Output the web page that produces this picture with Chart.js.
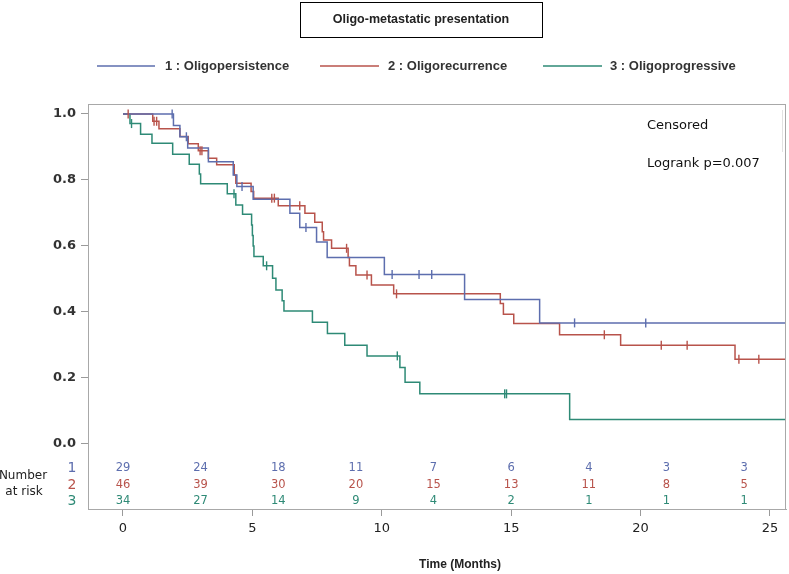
<!DOCTYPE html>
<html>
<head>
<meta charset="utf-8">
<script src="https://cdn.jsdelivr.net/npm/chart.js@4.4.1/dist/chart.umd.min.js"></script>
<style>
html,body{margin:0;padding:0;background:#fff;}
#wrap{width:789px;height:574px;position:relative;}
</style>
</head>
<body>
<div id="wrap"><canvas id="c" width="789" height="574"></canvas></div>
<script>
// ---- Data ----
const titleText = 'Oligo-metastatic presentation';
const groupNames = ['1 : Oligopersistence', '2 : Oligorecurrence', '3 : Oligoprogressive'];

const g1T = [0, 1.95, 2.2, 2.5, 3.3, 4.26, 4.4, 5.03, 6.45, 6.83, 7.48, 7.89, 10.1, 13.2, 16.1, 26];
const g1S = [1.0, 0.965, 0.931, 0.897, 0.855, 0.815, 0.780, 0.742, 0.699, 0.656, 0.612, 0.565, 0.514, 0.438, 0.367, 0.367];
const g1C = [1.9, 2.45, 4.6, 7.07, 10.4, 11.44, 11.93, 17.45, 20.2];

const g2T = [0, 1.15, 1.39, 2.2, 2.52, 2.91, 3.3, 3.62, 4.3, 4.36, 4.95, 5.05, 6.0, 7.03, 7.41, 7.7, 7.75, 8.06, 8.7, 8.75, 9.0, 9.6, 10.46, 14.58, 14.7, 15.1, 16.87, 19.23, 23.65, 26];
const g2S = [1.0, 0.978, 0.955, 0.932, 0.910, 0.889, 0.866, 0.846, 0.815, 0.790, 0.765, 0.745, 0.722, 0.699, 0.672, 0.643, 0.618, 0.593, 0.565, 0.540, 0.512, 0.482, 0.455, 0.426, 0.393, 0.365, 0.331, 0.299, 0.257, 0.257];
const g2C = [0.2, 1.2, 1.3, 2.98, 3.05, 5.75, 5.85, 6.83, 8.64, 9.43, 10.57, 18.6, 20.8, 21.8, 23.8, 24.57];

const g3T = [0, 0.27, 0.68, 1.12, 1.92, 2.56, 2.95, 3.0, 4.03, 4.36, 4.62, 4.97, 5.0, 5.03, 5.06, 5.42, 5.78, 5.91, 6.15, 6.22, 7.32, 7.9, 8.57, 9.43, 10.7, 10.9, 11.47, 17.26, 26];
const g3S = [1.0, 0.971, 0.939, 0.911, 0.878, 0.848, 0.818, 0.789, 0.758, 0.724, 0.696, 0.664, 0.632, 0.600, 0.568, 0.540, 0.502, 0.467, 0.434, 0.403, 0.369, 0.335, 0.299, 0.267, 0.232, 0.187, 0.152, 0.074, 0.074];
const g3C = [0.33, 4.29, 5.55, 10.6, 14.75, 14.82];

const riskTimes = [0, 3, 6, 9, 12, 15, 18, 21, 24];
const risk1 = [29, 24, 18, 11, 7, 6, 4, 3, 3];
const risk2 = [46, 39, 30, 20, 15, 13, 11, 8, 5];
const risk3 = [34, 27, 14, 9, 4, 2, 1, 1, 1];

const yTickValues = [0, 0.2, 0.4, 0.6, 0.8, 1.0];
const xTickValues = [0, 5, 10, 15, 20, 25];

// ---- Styles ----
const colors = ['#5d6eae', '#b8534b', '#2e8a76'];

function steps(T, S) { return T.map((t, i) => ({x: t, y: S[i]})); }
function survAt(T, S, t) { let v = S[0]; for (let i = 0; i < T.length; i++) { if (T[i] <= t) v = S[i]; } return v; }
function censors(C, T, S) { return C.map(t => ({x: t, y: survAt(T, S, t)})); }

const curves = [[g1T, g1S, g1C], [g2T, g2S, g2C], [g3T, g3S, g3C]];
const risks = [risk1, risk2, risk3];

const datasets = [];
curves.forEach((c, i) => {
  datasets.push({
    type: 'line', data: steps(c[0], c[1]), stepped: 'before',
    borderColor: colors[i], borderWidth: 1.5, pointRadius: 0, fill: false, order: 2
  });
});
curves.forEach((c, i) => {
  datasets.push({
    type: 'line', data: censors(c[2], c[0], c[1]), showLine: false,
    pointStyle: 'line', rotation: 90, pointRadius: 4.5, pointBorderWidth: 1.4,
    borderColor: colors[i], pointBorderColor: colors[i], backgroundColor: colors[i], order: 1
  });
});

const decor = {
  id: 'decor',
  afterDraw(chart) {
    const ctx = chart.ctx, a = chart.chartArea, xs = chart.scales.x;
    ctx.save();
    // plot frame
    ctx.strokeStyle = '#a8a8a8'; ctx.lineWidth = 1;
    ctx.strokeRect(a.left + 0.5, a.top + 0.5, a.right - a.left - 1, a.bottom - a.top);
    // faint inset line near right
    ctx.strokeStyle = '#e2e2e2';
    ctx.beginPath(); ctx.moveTo(782.5, 110); ctx.lineTo(782.5, 152); ctx.stroke();
    // title box
    ctx.strokeStyle = '#000'; ctx.lineWidth = 1;
    ctx.strokeRect(300.5, 2.5, 242, 35);
    ctx.fillStyle = '#222'; ctx.font = 'bold 12.5px "Liberation Sans", Arial, sans-serif';
    ctx.textAlign = 'center'; ctx.textBaseline = 'middle';
    ctx.fillText(titleText, 421, 20);
    // legend
    const lx = [[97, 155, 165], [320, 379, 388], [543, 602, 610]];
    ctx.textAlign = 'left';
    ctx.font = 'bold 13px "Liberation Sans", Arial, sans-serif';
    lx.forEach((p, i) => {
      ctx.strokeStyle = colors[i]; ctx.lineWidth = 1.5;
      ctx.beginPath(); ctx.moveTo(p[0], 66); ctx.lineTo(p[1], 66); ctx.stroke();
      ctx.fillStyle = '#333';
      ctx.fillText(groupNames[i], p[2], 66);
    });
    // inset texts
    ctx.fillStyle = '#111'; ctx.font = '13px "DejaVu Sans", sans-serif';
    ctx.fillText('Censored', 647, 126);
    ctx.fillText('Logrank p=0.007', 647, 164);
    // number at risk
    ctx.font = '12px "DejaVu Sans", sans-serif'; ctx.fillStyle = '#222';
    ctx.textAlign = 'center';
    ctx.fillText('Number', 23, 476);
    ctx.fillText('at risk', 24, 492);
    const rowY = [468, 485, 501];
    risks.forEach((r, i) => {
      ctx.fillStyle = colors[i];
      ctx.font = '14px "DejaVu Sans", sans-serif';
      ctx.fillText(String(i + 1), 72, rowY[i]);
      ctx.font = '11.5px "DejaVu Sans", sans-serif';
      r.forEach((n, j) => ctx.fillText(String(n), xs.getPixelForValue(riskTimes[j]), rowY[i]));
    });
    // x axis title
    ctx.fillStyle = '#222'; ctx.font = 'bold 12px "Liberation Sans", Arial, sans-serif';
    ctx.fillText('Time (Months)', 460, 565);
    ctx.restore();
  }
};

new Chart(document.getElementById('c'), {
  type: 'line',
  data: { datasets },
  options: {
    responsive: false, animation: false, devicePixelRatio: 1,
    layout: { autoPadding: false, padding: { left: 0, top: 104, right: 3, bottom: 0 } },
    plugins: { legend: { display: false }, tooltip: { enabled: false }, title: { display: false } },
    scales: {
      x: {
        type: 'linear', min: -1.352, max: 25.62,
        afterFit: s => { s.height = 65; },
        afterBuildTicks: s => { s.ticks = xTickValues.map(v => ({value: v})); },
        grid: { drawOnChartArea: false, drawTicks: true, tickLength: 7, color: '#9a9a9a' },
        border: { display: true, color: '#a8a8a8' },
        ticks: { color: '#222', padding: 5, font: { family: '"DejaVu Sans", sans-serif', size: 13 }, maxRotation: 0 }
      },
      y: {
        type: 'linear', min: -0.197, max: 1.0303,
        afterFit: s => { s.width = 88; },
        afterBuildTicks: s => { s.ticks = yTickValues.map(v => ({value: v})); },
        grid: { drawOnChartArea: false, drawTicks: true, tickLength: 7, color: '#9a9a9a' },
        border: { display: true, color: '#a8a8a8' },
        ticks: { color: '#333', padding: 5, font: { family: '"DejaVu Sans", sans-serif', size: 13, weight: 'bold' },
                 callback: v => v.toFixed(1) }
      }
    }
  },
  plugins: [decor]
});
</script>
</body>
</html>
